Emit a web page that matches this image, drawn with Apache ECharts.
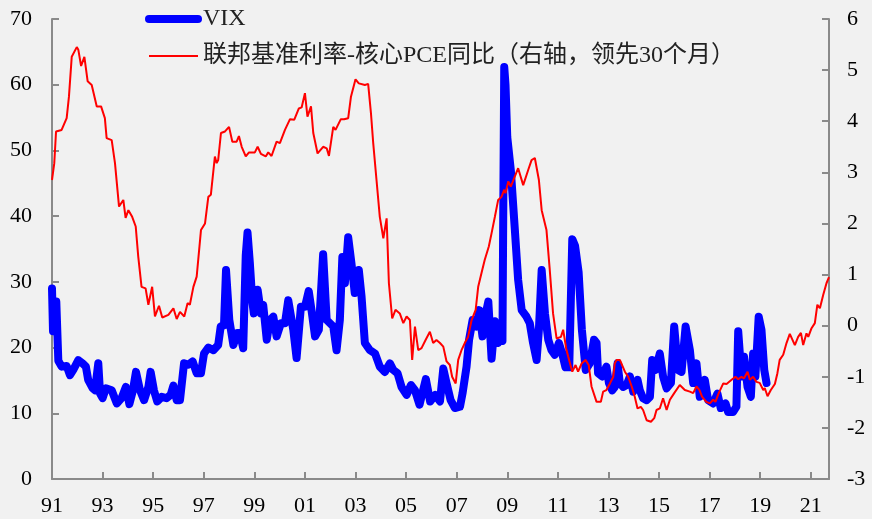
<!DOCTYPE html>
<html>
<head>
<meta charset="utf-8">
<script src="https://cdn.jsdelivr.net/npm/echarts@6/dist/echarts.min.js"></script>
<style>
html, body { margin: 0; padding: 0; background: #f1f1f1; }
#main { width: 872px; height: 519px; }
</style>
</head>
<body>
<div id="main"></div>
<script>
// data: [year, value]
var seriesNames = ['VIX', '联邦基准利率-核心PCE同比（右轴，领先30个月）'];
var yearTicks = [1991, 1993, 1995, 1997, 1999, 2001, 2003, 2005, 2007, 2009, 2011, 2013, 2015, 2017, 2019, 2021];

// VIX, left axis
var vixPoints = [
    [1991.00, 29], [1991.04, 22.5], [1991.08, 27], [1991.17, 27], [1991.25, 18],
    [1991.38, 17.1], [1991.58, 17.2], [1991.71, 15.8], [1991.84, 16.6], [1992.04, 18.1],
    [1992.21, 17.6], [1992.34, 17.1], [1992.43, 15.1], [1992.61, 13.8], [1992.70, 13.5],
    [1992.83, 17.6], [1992.90, 13.0], [1993.00, 12.3], [1993.13, 13.8], [1993.36, 13.5],
    [1993.56, 11.5], [1993.75, 12.3], [1993.92, 14.0], [1994.06, 11.4], [1994.19, 13.3],
    [1994.32, 16.3], [1994.48, 13.5], [1994.64, 12.0], [1994.81, 14.0], [1994.90, 16.3],
    [1995.03, 13.5], [1995.16, 11.8], [1995.34, 12.5], [1995.53, 12.3], [1995.69, 12.8],
    [1995.80, 14.2], [1995.93, 12.0], [1996.06, 12.0], [1996.22, 17.6], [1996.39, 17.4],
    [1996.56, 17.9], [1996.72, 16.1], [1996.89, 16.1], [1997.01, 19.1], [1997.18, 20.0],
    [1997.38, 19.6], [1997.57, 20.4], [1997.67, 23.2], [1997.80, 23.4], [1997.88, 31.8],
    [1998.01, 24.2], [1998.17, 20.4], [1998.32, 22.2], [1998.43, 22.2], [1998.56, 19.9],
    [1998.66, 34], [1998.73, 37.5], [1998.82, 33], [1998.92, 27], [1998.98, 25.2],
    [1999.13, 28.8], [1999.26, 25.2], [1999.35, 26.5], [1999.49, 21.2], [1999.62, 24.2],
    [1999.75, 24.7], [1999.88, 21.7], [2000.05, 23.7], [2000.21, 23.7], [2000.34, 27.2],
    [2000.54, 22.7], [2000.67, 18.4], [2000.84, 26.2], [2001.00, 26.2], [2001.15, 28.6],
    [2001.26, 25.7], [2001.40, 21.7], [2001.55, 22.7], [2001.72, 34.2], [2001.86, 24.2],
    [2001.99, 23.7], [2002.12, 23.2], [2002.25, 19.6], [2002.38, 24.2], [2002.48, 33.8],
    [2002.58, 29.8], [2002.71, 36.8], [2002.84, 32.8], [2002.97, 28.3], [2003.13, 31.8],
    [2003.24, 27.7], [2003.37, 20.7], [2003.57, 19.6], [2003.77, 19.1], [2003.96, 17.1],
    [2004.16, 16.3], [2004.36, 17.6], [2004.49, 16.6], [2004.66, 16.1], [2004.82, 14.0],
    [2005.02, 12.8], [2005.19, 14.3], [2005.35, 13.5], [2005.53, 11.3], [2005.78, 15.2],
    [2005.95, 11.8], [2006.15, 12.8], [2006.34, 11.8], [2006.47, 16.8], [2006.60, 14.6],
    [2006.76, 12.0], [2006.93, 10.8], [2007.13, 11.0], [2007.23, 13.0], [2007.39, 17.1],
    [2007.49, 21.2], [2007.63, 24.2], [2007.79, 23.2], [2007.89, 25.7], [2008.02, 21.7],
    [2008.15, 25.2], [2008.25, 27.0], [2008.38, 18.3], [2008.51, 24.0], [2008.64, 20.7],
    [2008.76, 22.0], [2008.81, 21.0], [2008.84, 40], [2008.88, 62.7], [2008.93, 60],
    [2009.00, 52], [2009.14, 47], [2009.30, 37.9], [2009.43, 30.3], [2009.57, 25.7],
    [2009.76, 24.7], [2009.89, 23.7], [2010.02, 20.7], [2010.16, 18.1], [2010.25, 22.7],
    [2010.36, 31.8], [2010.49, 25.2], [2010.62, 21.2], [2010.75, 19.6], [2010.88, 18.9],
    [2011.04, 20.7], [2011.17, 19.1], [2011.30, 17.0], [2011.45, 17.0], [2011.57, 36.5],
    [2011.68, 35.5], [2011.82, 31.5], [2011.95, 22.7], [2012.10, 16.6], [2012.26, 17.6],
    [2012.43, 21.2], [2012.53, 20.7], [2012.59, 16.1], [2012.75, 15.6], [2012.92, 17.1],
    [2013.02, 14.6], [2013.15, 13.5], [2013.25, 14.0], [2013.36, 17.6], [2013.45, 14.6],
    [2013.58, 14.0], [2013.72, 14.3], [2013.85, 15.6], [2013.98, 13.3], [2014.15, 15.1],
    [2014.24, 13.5], [2014.37, 12.3], [2014.51, 12.0], [2014.64, 12.5], [2014.73, 18.1],
    [2014.86, 16.6], [2015.03, 19.1], [2015.16, 15.6], [2015.30, 13.8], [2015.47, 14.6],
    [2015.60, 23.2], [2015.75, 16.6], [2015.89, 16.3], [2016.05, 23.2], [2016.22, 19.6],
    [2016.35, 14.6], [2016.48, 17.6], [2016.61, 12.5], [2016.81, 15.1], [2016.94, 12.0],
    [2017.14, 11.5], [2017.31, 13.0], [2017.44, 10.8], [2017.63, 11.5], [2017.73, 10.2],
    [2017.93, 10.2], [2018.06, 11.0], [2018.13, 22.5], [2018.26, 15.6], [2018.36, 18.6],
    [2018.50, 14.0], [2018.63, 12.5], [2018.72, 19.1], [2018.81, 15.6], [2018.94, 24.7],
    [2019.05, 22.7], [2019.16, 16.6], [2019.25, 14.6]
];

// fed funds minus core PCE yoy, right axis, shifted 30 months ahead
var spreadPoints = [
    [1991.00, 2.85], [1991.09, 3.18], [1991.16, 3.80], [1991.38, 3.83], [1991.58, 4.06],
    [1991.67, 4.48], [1991.78, 5.26], [1991.98, 5.45], [1992.04, 5.40], [1992.15, 5.08],
    [1992.28, 5.26], [1992.41, 4.78], [1992.57, 4.71], [1992.77, 4.29], [1992.94, 4.29],
    [1993.09, 4.06], [1993.16, 3.67], [1993.36, 3.63], [1993.49, 3.18], [1993.65, 2.33],
    [1993.82, 2.46], [1993.91, 2.11], [1994.02, 2.26], [1994.17, 2.13], [1994.31, 1.94],
    [1994.41, 1.35], [1994.54, 0.76], [1994.70, 0.73], [1994.81, 0.41], [1994.96, 0.76],
    [1995.07, 0.18], [1995.23, 0.39], [1995.36, 0.16], [1995.60, 0.21], [1995.80, 0.34],
    [1995.93, 0.13], [1996.06, 0.27], [1996.23, 0.18], [1996.36, 0.44], [1996.45, 0.41],
    [1996.59, 0.76], [1996.72, 0.96], [1996.89, 1.87], [1997.05, 2.00], [1997.18, 2.52],
    [1997.28, 2.56], [1997.44, 3.31], [1997.51, 3.18], [1997.57, 3.24], [1997.68, 3.77],
    [1997.84, 3.80], [1998.00, 3.89], [1998.13, 3.60], [1998.30, 3.60], [1998.39, 3.71],
    [1998.50, 3.50], [1998.66, 3.31], [1998.79, 3.39], [1999.02, 3.39], [1999.13, 3.50],
    [1999.26, 3.36], [1999.45, 3.31], [1999.55, 3.39], [1999.68, 3.32], [1999.88, 3.60],
    [2000.01, 3.57], [2000.21, 3.83], [2000.41, 4.04], [2000.58, 4.03], [2000.76, 4.25],
    [2000.87, 4.27], [2001.00, 4.55], [2001.10, 4.09], [2001.24, 4.29], [2001.33, 3.77],
    [2001.50, 3.37], [2001.72, 3.50], [2001.86, 3.47], [2001.95, 3.32], [2002.12, 3.89],
    [2002.21, 3.83], [2002.42, 4.04], [2002.55, 4.04], [2002.71, 4.06], [2002.82, 4.48],
    [2003.00, 4.82], [2003.13, 4.74], [2003.37, 4.71], [2003.50, 4.73], [2003.61, 4.16],
    [2003.70, 3.57], [2003.83, 2.85], [2003.96, 2.13], [2004.10, 1.71], [2004.16, 1.71],
    [2004.23, 2.10], [2004.32, 0.83], [2004.45, 0.14], [2004.58, 0.31], [2004.75, 0.24],
    [2004.89, 0.05], [2005.02, 0.18], [2005.15, 0.11], [2005.24, -0.67], [2005.35, -0.02],
    [2005.48, -0.48], [2005.61, -0.44], [2005.77, -0.28], [2005.94, -0.12], [2006.07, -0.34],
    [2006.20, -0.28], [2006.34, -0.34], [2006.47, -0.41], [2006.60, -0.70], [2006.73, -0.77],
    [2006.82, -1.00], [2006.96, -1.13], [2007.06, -0.67], [2007.19, -0.48], [2007.35, -0.31],
    [2007.45, -0.22], [2007.59, 0.11], [2007.75, 0.31], [2007.85, 0.76], [2008.01, 1.09],
    [2008.11, 1.29], [2008.27, 1.55], [2008.38, 1.81], [2008.51, 2.13], [2008.64, 2.46],
    [2008.77, 2.52], [2008.88, 2.66], [2008.93, 2.59], [2009.04, 2.82], [2009.14, 2.72],
    [2009.30, 2.92], [2009.43, 3.08], [2009.63, 2.75], [2009.83, 3.05], [2009.96, 3.24],
    [2010.09, 3.28], [2010.16, 3.28], [2010.25, 2.85], [2010.36, 2.26], [2010.55, 1.87],
    [2010.68, 1.09], [2010.81, 0.24], [2010.95, -0.25], [2011.12, -0.22], [2011.21, -0.08],
    [2011.33, -0.45], [2011.41, -0.61], [2011.57, -0.90], [2011.70, -0.77], [2011.80, -0.90],
    [2011.94, -0.74], [2012.09, -0.67], [2012.22, -0.77], [2012.33, -1.19], [2012.53, -1.49],
    [2012.70, -1.49], [2012.79, -1.29], [2012.92, -1.26], [2013.06, -1.13], [2013.19, -1.00],
    [2013.25, -0.74], [2013.32, -0.67], [2013.45, -0.67], [2013.54, -0.77], [2013.65, -0.90],
    [2013.78, -1.00], [2013.92, -1.19], [2014.04, -1.39], [2014.15, -1.62], [2014.28, -1.59],
    [2014.37, -1.65], [2014.51, -1.85], [2014.68, -1.88], [2014.81, -1.81], [2014.90, -1.65],
    [2015.03, -1.62], [2015.16, -1.42], [2015.30, -1.65], [2015.43, -1.45], [2015.60, -1.32],
    [2015.82, -1.16], [2016.02, -1.26], [2016.22, -1.29], [2016.35, -1.32], [2016.48, -1.19],
    [2016.60, -1.26], [2016.70, -1.39], [2016.87, -1.49], [2017.01, -1.52], [2017.14, -1.45],
    [2017.23, -1.49], [2017.36, -1.32], [2017.54, -1.13], [2017.67, -1.14], [2017.87, -1.06],
    [2018.02, -1.00], [2018.13, -1.05], [2018.26, -1.00], [2018.36, -1.03], [2018.50, -0.90],
    [2018.59, -1.06], [2018.72, -1.00], [2018.85, -1.10], [2018.98, -1.12], [2019.12, -1.26],
    [2019.18, -1.22], [2019.29, -1.38], [2019.42, -1.26], [2019.58, -1.14], [2019.68, -0.93],
    [2019.77, -0.67], [2019.91, -0.57], [2020.04, -0.34], [2020.17, -0.16], [2020.37, -0.38],
    [2020.50, -0.22], [2020.61, -0.14], [2020.70, -0.38], [2020.83, -0.15], [2020.90, -0.22],
    [2021.03, -0.05], [2021.16, 0.05], [2021.26, 0.41], [2021.36, 0.34], [2021.49, 0.60],
    [2021.62, 0.83], [2021.72, 0.95]
];

var fontFamily = "'Times New Roman', 'Liberation Serif', 'Noto Sans CJK SC', serif";
var axisGray = '#8a8a8a';

var myChart = echarts.init(document.getElementById('main'));
var option = {
    backgroundColor: '#f1f1f1',
    animation: false,
    textStyle: { fontFamily: fontFamily },
    grid: {
        left: 52,
        right: 43,
        top: 19,
        bottom: 40
    },
    legend: {
        orient: 'vertical',
        left: 140,
        top: 2,
        itemWidth: 49,
        itemHeight: 14,
        itemGap: 13,
        // hide the little circle that line series put in the legend icon
        itemStyle: { opacity: 0 },
        data: [
            { name: seriesNames[0], lineStyle: { width: 8, cap: 'round' } },
            { name: seriesNames[1], lineStyle: { width: 2 } }
        ],
        textStyle: {
            fontFamily: fontFamily,
            fontSize: 24,
            color: '#222'
        }
    },
    xAxis: {
        type: 'value',
        min: 1991,
        max: 2021.72,
        splitLine: { show: false },
        axisLine: { lineStyle: { color: axisGray, width: 2 } },
        axisTick: {
            inside: true,
            length: 7,
            customValues: yearTicks,
            lineStyle: { color: axisGray, width: 2 }
        },
        axisLabel: {
            customValues: yearTicks,
            margin: 16,
            fontSize: 22,
            color: '#000',
            fontFamily: fontFamily,
            formatter: function (v) {
                return String(Math.round(v)).slice(2);
            }
        }
    },
    yAxis: [
        {
            type: 'value',
            min: 0,
            max: 70,
            interval: 10,
            splitLine: { show: false },
            axisLine: { show: true, lineStyle: { color: axisGray, width: 2 } },
            axisTick: { show: true, inside: true, length: 7, lineStyle: { color: axisGray, width: 2 } },
            axisLabel: { margin: 20, fontSize: 22, color: '#000', fontFamily: fontFamily }
        },
        {
            type: 'value',
            min: -3,
            max: 6,
            interval: 1,
            position: 'right',
            splitLine: { show: false },
            axisLine: { show: true, lineStyle: { color: axisGray, width: 2 } },
            axisTick: { show: true, inside: true, length: 7, lineStyle: { color: axisGray, width: 2 } },
            axisLabel: { margin: 18, fontSize: 22, color: '#000', fontFamily: fontFamily }
        }
    ],
    series: [
        {
            name: seriesNames[0],
            type: 'line',
            yAxisIndex: 0,
            data: vixPoints,
            symbol: 'none',
            showSymbol: false,
            color: '#0000ff',
            lineStyle: {
                color: '#0000ff',
                width: 8,
                cap: 'round',
                join: 'round'
            }
        },
        {
            name: seriesNames[1],
            type: 'line',
            yAxisIndex: 1,
            data: spreadPoints,
            symbol: 'none',
            showSymbol: false,
            color: '#ff0000',
            lineStyle: {
                color: '#ff0000',
                width: 2
            }
        }
    ]
};
if (option && typeof option === "object") {
    myChart.setOption(option, true);
}
</script>
</body>
</html>
